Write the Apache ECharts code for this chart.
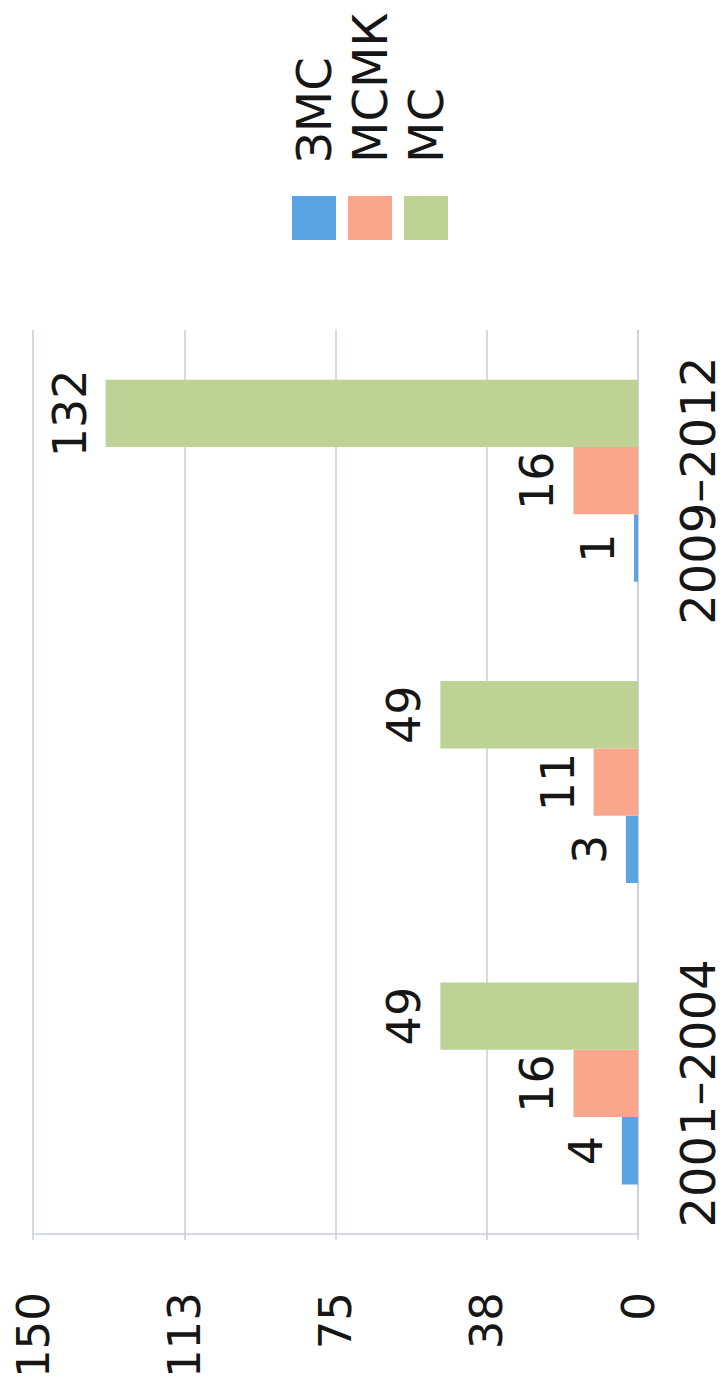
<!DOCTYPE html>
<html><head><meta charset="utf-8">
<script src="https://cdn.jsdelivr.net/npm/echarts@6/dist/echarts.min.js"></script>
<style>
html,body{margin:0;padding:0;background:#fff;overflow:hidden;width:726px;height:1381px;}
#chart{position:absolute;left:0;top:0;width:1381px;height:726px;transform-origin:0 0;transform:translateY(1381px) rotate(-90deg);}
</style></head><body><div id="chart"></div>
<script>
const categories = ['2001–2004', '2005–2008', '2009–2012'];
const seriesNames = ['ЗМС', 'МСМК', 'МС'];
const zmsValues = [4, 3, 1];
const msmkValues = [16, 11, 16];
const msValues = [49, 49, 132];
const valueTickLabels = ['0', '38', '75', '113', '150'];

const colors = ['#5aa5e1', '#f9a68c', '#bed296'];
const font = 'DejaVu Sans';
const gridColor = '#c9cddf';
const textColor = '#161616';

const chart = echarts.init(document.getElementById('chart'), null, {renderer: 'svg'});
const mkSeries = (name, data, color) => ({
  name, type: 'bar', data, barGap: '0%', barCategoryGap: '33%',
  itemStyle: {color},
  label: {show: true, position: 'top', distance: 13, fontSize: 46, fontFamily: font, color: textColor}
});
chart.setOption({
  animation: false,
  backgroundColor: '#fff',
  grid: {left: 139, right: 330, top: 33, bottom: 88, containLabel: false},
  legend: {
    orient: 'vertical', left: 1136, top: 285, itemWidth: 44, itemHeight: 44, itemGap: 8,
    icon: 'rect', data: seriesNames,
    textStyle: {fontSize: 48, fontFamily: font, color: textColor, padding: [0, 0, 0, 28]}
  },
  xAxis: {
    type: 'category', data: categories,
    axisLine: {show: true, lineStyle: {color: gridColor, width: 1.5}},
    axisTick: {show: false},
    axisLabel: {fontSize: 48, fontFamily: font, color: textColor, margin: 36, padding: [0, 20, 0, 0]}
  },
  yAxis: {
    type: 'value', min: 0, max: 150, interval: 37.5,
    axisLine: {show: true, lineStyle: {color: gridColor, width: 1.5}},
    axisTick: {show: true, length: 6, lineStyle: {color: gridColor, width: 1.5}},
    splitLine: {show: true, lineStyle: {color: gridColor, width: 1.5}},
    axisLabel: {fontSize: 45, fontFamily: font, color: textColor, margin: 58,
      formatter: (v) => valueTickLabels[Math.round(v / 37.5)]}
  },
  series: [
    mkSeries(seriesNames[0], zmsValues, colors[0]),
    mkSeries(seriesNames[1], msmkValues, colors[1]),
    mkSeries(seriesNames[2], msValues, colors[2])
  ]
});
</script></body></html>
